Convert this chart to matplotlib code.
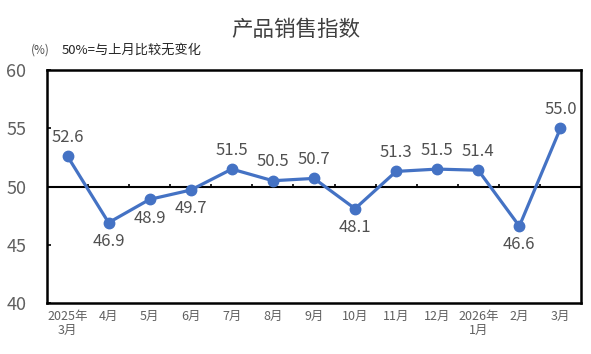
import matplotlib
matplotlib.use("Agg")
import matplotlib.pyplot as plt

plt.rcParams['font.family'] = ['Noto Sans CJK SC', 'DejaVu Sans']

months = ["2025年\n3月", "4月", "5月", "6月", "7月", "8月", "9月", "10月",
          "11月", "12月", "2026年\n1月", "2月", "3月"]
values = [52.6, 46.9, 48.9, 49.7, 51.5, 50.5, 50.7, 48.1, 51.3, 51.5, 51.4, 46.6, 55.0]
label_above = [True, False, False, False, True, True, True, False, True, True, True, False, True]

LINE = "#4472c4"
TXT = "#505050"
TICK = "#606060"

fig = plt.figure(figsize=(5.91, 3.54), dpi=100)
ax = fig.add_axes([0.0795, 0.144, 0.9035, 0.658])

x = list(range(len(months)))
ax.plot(x, values, color=LINE, lw=2.3, marker="o", ms=7.5, zorder=3)

for xi, v, up in zip(x, values, label_above):
    ax.annotate(f"{v:.1f}", (xi, v), xytext=(0, 13.5 if up else -13.5),
                textcoords="offset points", ha="center", va="center",
                fontsize=12, color=TXT, zorder=4)

# 50 reference line with small category ticks
ax.axhline(50, color="black", lw=1.5, zorder=2)
ax.vlines([i + 0.5 for i in x[:-1]], 50, 50.25, color="black", lw=1.2, zorder=2)

ax.set_xlim(-0.5, len(months) - 0.5)
ax.set_ylim(40, 60)
ax.set_yticks([40, 45, 50, 55, 60])
ax.set_xticks(x)
ax.set_xticklabels(months, fontsize=9, color=TICK, linespacing=1.1)
ax.tick_params(axis="x", length=0, pad=5)
ax.tick_params(axis="y", direction="in", length=3, width=1.2, pad=15,
               labelsize=13, labelcolor=TICK)
for s in ax.spines.values():
    s.set_linewidth(1.8)
    s.set_color("black")

fig.text(0.5, 0.915, "产品销售指数", ha="center", va="center",
         fontsize=15.5, color="#404040")
fig.text(0.052, 0.858, "(%)", ha="left", va="center", fontsize=8.5, color=TXT)
fig.text(0.104, 0.858, "50%=与上月比较无变化", ha="left", va="center",
         fontsize=9.5, color="#262626")

fig.savefig("out.png", dpi=100, facecolor="white")
